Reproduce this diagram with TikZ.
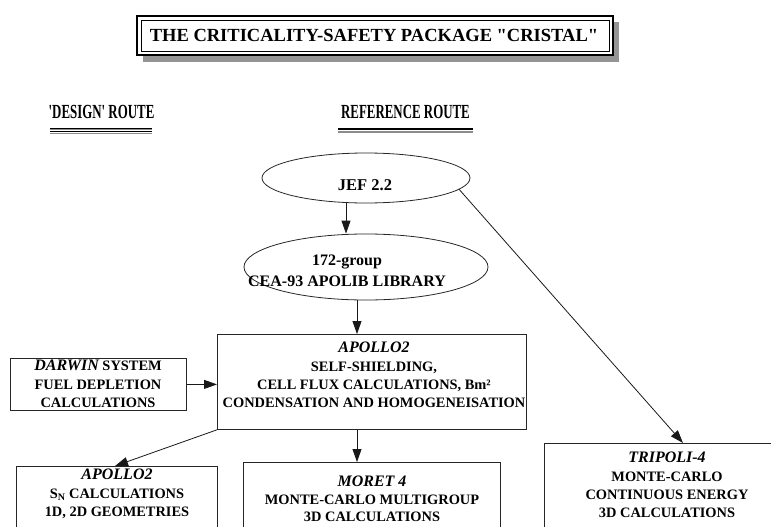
\documentclass[tikz,border=0pt]{standalone}
\usepackage{fontspec}
\setmainfont{Liberation Serif}[Ligatures=TeXOff]
\usetikzlibrary{shapes.geometric,arrows.meta}
\newcommand\itname[1]{{\fontsize{16}{18.3}\selectfont\itshape #1}}
\begin{document}
\begin{tikzpicture}[x=1pt,y=-1pt,
  txt/.style={font=\fontsize{14.4}{18.4}\selectfont\bfseries, align=center, inner sep=0pt, anchor=north},
  box/.style={draw=black!85, line width=0.8pt, inner sep=0pt, anchor=north west, rectangle},
  oval/.style={draw=black!85, line width=0.8pt, ellipse, inner sep=0pt},
  conn/.style={draw=black!90, line width=0.8pt, -{Triangle[length=13pt,width=9pt]}},
  route/.style={inner sep=0pt, anchor=base},
]
\useasboundingbox (0,0) rectangle (771,527);
\clip (0,0) rectangle (771,527);
% title
\fill[black!42] (143,22) rectangle (619,62);
\draw[fill=white, line width=2.2pt] (137,16) rectangle (613,55);
\draw[line width=0.8pt] (141,20) rectangle (609,51);
\node[inner sep=0pt, anchor=base, font=\fontsize{18.5}{20}\selectfont\bfseries] (title) at (374,42) {THE CRITICALITY-SAFETY PACKAGE "CRISTAL"};
% routes
\node[route] (design) at (101.5,118) {\scalebox{0.645}[1]{\fontsize{20}{20}\selectfont\bfseries 'DESIGN' ROUTE}};
\node[route] (refr) at (405.5,118) {\scalebox{0.645}[1]{\fontsize{20}{20}\selectfont\bfseries REFERENCE ROUTE}};
\draw[black, line width=0.9pt] (50,128.3) -- (152,128.3);
\draw[black!45, line width=0.9pt] (50,129.9) -- (152,129.9);
\draw[black, line width=1.4pt] (50,131.6) -- (152,131.6);
\draw[black!45, line width=0.8pt] (50,133.2) -- (152,133.2);
\draw[black, line width=2pt] (338,129.3) -- (473,129.3);
\draw[black!45, line width=1.6pt] (338,131.9) -- (473,131.9);
% ellipses
\node[oval, minimum width=208pt, minimum height=50pt] (jef) at (366,178) {};
\node[txt, font=\fontsize{16.5}{20}\selectfont\bfseries] (jeft) at (365,179) {JEF 2.2};
\node[oval, minimum width=244pt, minimum height=66pt] (lib) at (366,267) {};
\node[txt, font=\fontsize{16}{21}\selectfont\bfseries] (libt) at (347,255) {172-group\\CEA-93 APOLIB LIBRARY};
% boxes
\node[box, minimum width=309pt, minimum height=95pt] (apollo) at (217,334) {};
\node[box, minimum width=176pt, minimum height=52pt] (darwin) at (10,358) {};
\node[box, minimum width=201pt, minimum height=100pt] (sn) at (16,466) {};
\node[box, minimum width=257pt, minimum height=100pt] (moret) at (243,462) {};
\node[box, minimum width=256pt, minimum height=120pt] (tri) at (544,443) {};
% box texts
\node[txt] (apollot) at (374,342) {\itname{APOLLO2}\\SELF-SHIELDING,\\CELL FLUX CALCULATIONS, Bm²\\CONDENSATION AND HOMOGENEISATION};
\node[txt] (darwint) at (98,360) {\itname{DARWIN} SYSTEM\\FUEL DEPLETION\\CALCULATIONS};
\node[txt] (snt) at (117,469) {\itname{APOLLO2}\\S\textsubscript{N} CALCULATIONS\\1D, 2D GEOMETRIES};
\node[txt, font=\fontsize{14.4}{17.6}\selectfont\bfseries] (moret t) at (372,476) {\itname{MORET 4}\\MONTE-CARLO MULTIGROUP\\3D CALCULATIONS};
\node[txt] (trit) at (667,452) {\itname{TRIPOLI-4}\\MONTE-CARLO\\CONTINUOUS ENERGY\\3D CALCULATIONS};
% connectors
\coordinate (xa) at (346,0);
\coordinate (xb) at (357,0);
\coordinate (xc) at (115,0);
\coordinate (xd) at (683,0);
\draw[conn] (jef.south -| xa) -- (lib.north -| xa);
\draw[conn] (lib.south -| xb) -- (apollo.north -| xb);
\draw[conn] (darwin.east) -- (apollo.west |- darwin.east);
\draw[conn] (apollo.south west) -- (sn.north -| xc);
\draw[conn] (apollo.south -| xb) -- (moret.north -| xb);
\draw[conn] (jef.-7) -- (tri.north -| xd);
\end{tikzpicture}
\end{document}
